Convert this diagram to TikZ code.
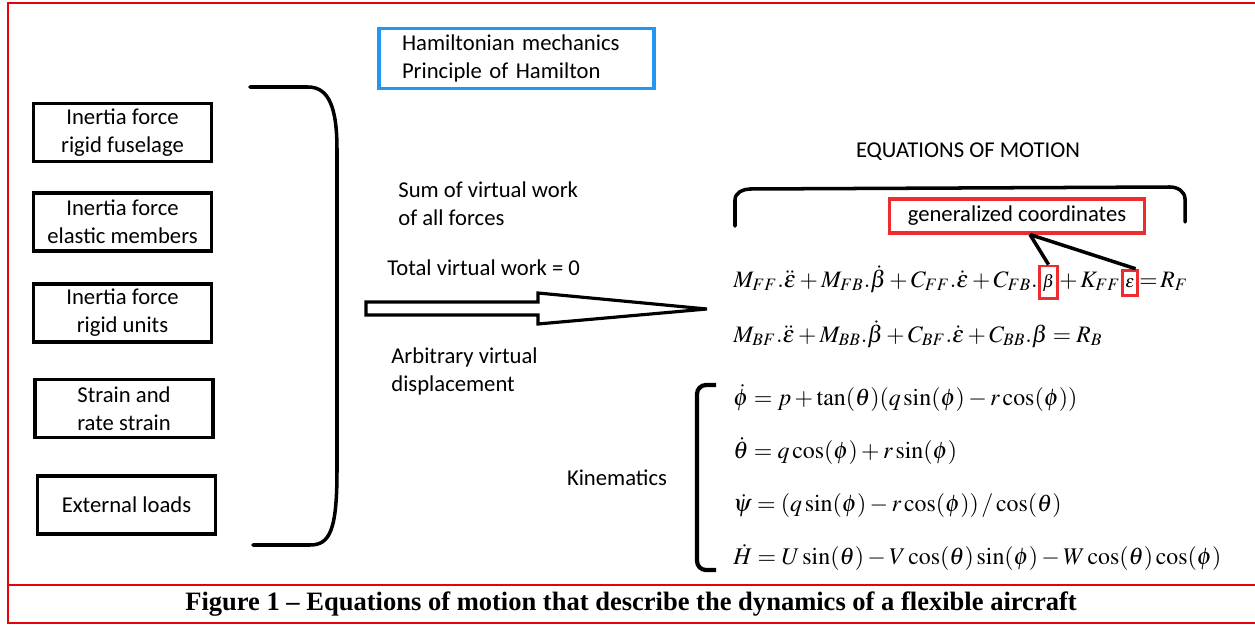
\documentclass[tikz,border=0pt]{standalone}
\usepackage{mathptmx}
\usepackage{fontspec}
\setmainfont{Liberation Serif}
\newfontfamily\calfont{Carlito}
\definecolor{frred}{HTML}{E8000B}
\definecolor{hmblue}{HTML}{2196F3}
\definecolor{gcred}{HTML}{EE2B2E}
\usetikzlibrary{positioning}
\newcommand{\ve}{\varepsilon}

\begin{document}
\begin{tikzpicture}[x=0.02cm,y=-0.02cm,
  lbl/.style={font=\calfont\fontsize{12.9}{15.9}\selectfont,inner sep=0pt,align=left},
  frc/.style={draw,line width=2pt,minimum width=3.56cm,minimum height=1.16cm,inner sep=1pt,
    align=center,font=\calfont\fontsize{12.9}{15.9}\selectfont},
  ham/.style={draw=hmblue,line width=2pt,text width=4.58cm,inner xsep=0.46cm,inner ysep=3pt,
    minimum height=1.2cm,align=left,font=\calfont\fontsize{12.9}{15.9}\selectfont},
  gbox/.style={draw=gcred,line width=1.8pt,minimum width=5.1cm,minimum height=0.68cm,
    inner xsep=0.22cm,font=\calfont\fontsize{12.9}{15.9}\selectfont},
  rbox/.style={draw=gcred,line width=1.6pt,inner xsep=1.8pt,inner ysep=4.5pt},
  eq/.style={font=\fontsize{13.4}{16}\selectfont,inner sep=0pt,anchor=base west},
  kq/.style={font=\fontsize{13.6}{16}\selectfont,inner sep=0pt,anchor=base west},
  brk/.style={line width=2pt,line cap=round},
  conn/.style={line width=2pt}]
  \useasboundingbox (0,0) rectangle (1255,625);
  % frame and caption
  \draw[frred,line width=1.2pt] (1255,3) -- (8,3) -- (8,623) -- (1255,623);
  \draw[frred,line width=1.2pt] (8,585) -- (1255,585);
  \node[font=\bfseries\fontsize{15.1}{17}\selectfont] (cap) at (631,604)
    {Figure 1 -- Equations of motion that describe the dynamics of a flexible aircraft};
  % left: the forces
  \node[frc] (fuselage) at (122.5,132.5) {Inertia force\\ rigid fuselage};
  \node[frc] (elastic)  at (122.5,222)   {Inertia force\\ elastic members};
  \node[frc] (units)    at (122.5,313)   {Inertia force\\ rigid units};
  \node[frc] (strain)   at (124,408.5)   {Strain and\\ rate strain};
  \node[frc] (loads)    at (126.5,505)   {External loads};
  \draw[brk] (250,87) -- (308,87) .. controls (330,87) and (337,110) .. (337,150)
    -- (337,470) .. controls (337,530) and (330,545) .. (310,545) -- (253,545);
  % middle: principle and the big arrow
  \node[ham] (hamilton) at (516.5,58.5) {Hamiltonian mechanics\\ Principle of Hamilton};
  \node[lbl,anchor=west] (sumvw) at (398,204) {Sum of virtual work\\ of all forces};
  \node[lbl,anchor=west] (totvw) at (387,268) {Total virtual work = 0};
  \node[lbl,anchor=west] (arbvd) at (391,371) {Arbitrary virtual\\ displacement};
  \draw[line width=1.8pt,line join=miter] (366,302) -- (538,302) -- (538,293) -- (707,309)
    -- (538,324) -- (538,315) -- (366,315) -- cycle;
  % right: equations of motion
  \node[lbl] (eom) at (968,152) {EQUATIONS OF MOTION};
  \draw[brk] (735,226) -- (735,200) to[out=90,in=180] (750,189) -- (1170,187)
    to[out=0,in=90] (1185,199) -- (1185,222);
  \node[gbox] (gen) at (1017,216) {generalized coordinates};
  \node[eq] (e1a) at (733,287)
    {$M_{FF}.\ddot{\ve}+M_{FB}.\dot{\beta}+C_{FF}.\dot{\ve}+C_{FB}.$};
  \node[rbox,anchor=base west] (bet) at (e1a.base east) {$\beta$};
  \node[eq] (e1b) at (bet.base east) {${+}\,K_{FF}$};
  \node[rbox,anchor=base west] (eps) at (e1b.base east) {$\ve$};
  \node[eq] (e1c) at (eps.base east) {${=}\,R_F$};
  \node[eq] (e2) at (733,342)
    {$M_{BF}.\ddot{\ve}+M_{BB}.\dot{\beta}+C_{BF}.\dot{\ve}+C_{BB}.\beta=R_B$};
  \coordinate (apex) at ([xshift=0.26cm]gen.south);
  \draw[conn] (apex) -- (bet.north);
  \draw[conn] (apex) -- ([xshift=-2pt]eps.north east);
  % kinematics
  \node[lbl] (kin) at (617,478) {Kinematics};
  \draw[line width=2.4pt] (716,385) -- (706,385) to[out=180,in=90] (697,394) -- (697,561)
    to[out=-90,in=180] (706,570) -- (716,570);
  \node[kq] (k1) at (733,405) {$\dot{\phi}=p+\tan(\theta)(q\sin(\phi)-r\cos(\phi))$};
  \node[kq] (k2) at (733,458) {$\dot{\theta}=q\cos(\phi)+r\sin(\phi)$};
  \node[kq] (k3) at (733,511) {$\dot{\psi}=(q\sin(\phi)-r\cos(\phi))\,/\cos(\theta)$};
  \node[kq] (k4) at (733,564)
    {$\dot{H}=U\sin(\theta)-V\cos(\theta)\sin(\phi)-W\cos(\theta)\cos(\phi)$};
\end{tikzpicture}
\end{document}
